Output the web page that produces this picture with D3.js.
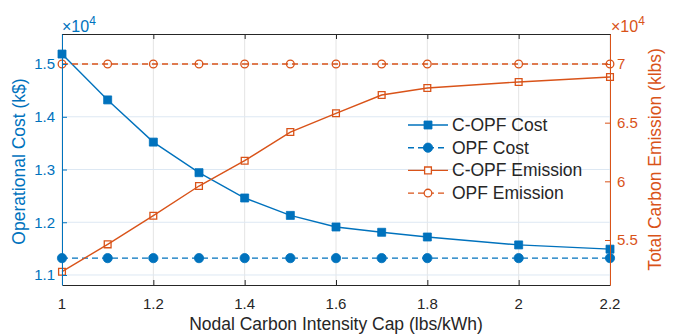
<!DOCTYPE html>
<html>
<head>
<meta charset="utf-8">
<script src="https://cdn.jsdelivr.net/npm/d3@7"></script>
<style>
  body { margin: 0; background: #fff; }
  svg { font-family: 'Liberation Sans', Arial, Helvetica, sans-serif; }
</style>
</head>
<body>
<svg width="674" height="335"></svg>
<script>
const svg = d3.select('svg');
const width = +svg.attr('width');
const height = +svg.attr('height');

// data (cost in $, emission in lbs)
const capValues = [1, 1.1, 1.2, 1.3, 1.4, 1.5, 1.6, 1.7, 1.8, 2.0, 2.2];
const copfCost = [15190, 14320, 13520, 12940, 12460, 12130, 11910, 11810, 11720, 11570, 11490];
const opfCost = [11320, 11320, 11320, 11320, 11320, 11320, 11320, 11320, 11320, 11320, 11320];
const copfEmission = [52300, 54630, 57070, 59600, 61760, 64200, 65800, 67360, 67950, 68470, 68890];
const opfEmission = [70000, 70000, 70000, 70000, 70000, 70000, 70000, 70000, 70000, 70000, 70000];

const xTicks = [1, 1.2, 1.4, 1.6, 1.8, 2, 2.2];
const costTicks = [11000, 12000, 13000, 14000, 15000];
const emissionTicks = [55000, 60000, 65000, 70000];

const seriesNames = ['C-OPF Cost', 'OPF Cost', 'C-OPF Emission', 'OPF Emission'];

const blue = '#0072BD';
const orange = '#D95319';
const dark = '#262626';

const margin = { top: 34, right: 64, bottom: 50, left: 62 };
const innerWidth = width - margin.left - margin.right;
const innerHeight = height - margin.top - margin.bottom;

const plotLeft = margin.left, plotRight = margin.left + innerWidth;
const plotTop = margin.top, plotBottom = margin.top + innerHeight;

// scales in page coordinates
const x = d3.scaleLinear()
    .domain([1, 2.2])
    .range([plotLeft, plotRight]);

const yCost = d3.scaleLinear()
    .domain([10810, 15570])
    .range([plotBottom, plotTop]);

const yEm = d3.scaleLinear()
    .domain([51165, 72557])
    .range([plotBottom, plotTop]);

// grid
svg.append('g').selectAll('line').data(xTicks).enter()
    .append('line')
    .attr('x1', d => x(d)).attr('x2', d => x(d))
    .attr('y1', plotTop).attr('y2', plotBottom)
    .attr('stroke', '#e4e4e4');

svg.append('g').selectAll('line').data(costTicks).enter()
    .append('line')
    .attr('x1', plotLeft).attr('x2', plotRight)
    .attr('y1', d => yCost(d)).attr('y2', d => yCost(d))
    .attr('stroke', '#dde8f3');

// series
const series = [
    { name: seriesNames[0], values: copfCost, y: yCost, color: blue, dash: null, shape: d3.symbolSquare, size: 64, filled: true },
    { name: seriesNames[1], values: opfCost, y: yCost, color: blue, dash: '6,4', shape: d3.symbolCircle, size: 68, filled: true },
    { name: seriesNames[2], values: copfEmission, y: yEm, color: orange, dash: null, shape: d3.symbolSquare, size: 46, filled: false },
    { name: seriesNames[3], values: opfEmission, y: yEm, color: orange, dash: '6,4', shape: d3.symbolCircle, size: 46, filled: false }
];

series.forEach(s => {
    const line = d3.line()
        .x((d, i) => x(capValues[i]))
        .y(d => s.y(d));

    svg.append('path')
        .datum(s.values)
        .attr('d', line)
        .attr('fill', 'none')
        .attr('stroke', s.color)
        .attr('stroke-width', 1.4)
        .attr('stroke-dasharray', s.dash);

    svg.append('g').selectAll('path').data(s.values).enter()
        .append('path')
        .attr('d', d3.symbol().type(s.shape).size(s.size))
        .attr('transform', (d, i) => `translate(${x(capValues[i])},${s.y(d)})`)
        .attr('fill', s.filled ? s.color : 'none')
        .attr('stroke', s.color)
        .attr('stroke-width', s.filled ? 0.8 : 1.3);
});

// axes (lines + inward ticks), labels drawn separately below
const axisLines = (axis, color, tx, ty) => {
    const a = svg.append('g')
        .attr('transform', `translate(${tx},${ty})`)
        .call(axis.tickSizeInner(-5).tickSizeOuter(0));
    a.selectAll('.tick text').remove();
    a.select('.domain').attr('stroke', color);
    a.selectAll('.tick line').attr('stroke', color);
};
axisLines(d3.axisBottom(x).tickValues(xTicks), dark, 0, plotBottom);
axisLines(d3.axisTop(x).tickValues(xTicks), dark, 0, plotTop);
axisLines(d3.axisLeft(yCost).tickValues(costTicks), blue, plotLeft, 0);
axisLines(d3.axisRight(yEm).tickValues(emissionTicks), orange, plotRight, 0);

const fmt = d => d3.format('~g')(d / 10000);

svg.append('g').selectAll('text').data(xTicks).enter()
    .append('text')
    .attr('x', d => x(d))
    .attr('y', plotBottom + 24)
    .attr('text-anchor', 'middle')
    .attr('font-size', 15)
    .attr('fill', dark)
    .text(d3.format('~g'));

svg.append('g').selectAll('text').data(costTicks).enter()
    .append('text')
    .attr('x', plotLeft - 7)
    .attr('y', d => yCost(d))
    .attr('dy', '0.35em')
    .attr('text-anchor', 'end')
    .attr('font-size', 15)
    .attr('fill', blue)
    .text(fmt);

svg.append('g').selectAll('text').data(emissionTicks).enter()
    .append('text')
    .attr('x', plotRight + 7)
    .attr('y', d => yEm(d))
    .attr('dy', '0.35em')
    .attr('font-size', 15)
    .attr('fill', orange)
    .text(fmt);

// axis titles
svg.append('text')
    .attr('x', plotLeft + innerWidth / 2)
    .attr('y', 330)
    .attr('text-anchor', 'middle')
    .attr('font-size', 17.5)
    .attr('fill', dark)
    .text('Nodal Carbon Intensity Cap (lbs/kWh)');

const yTitle = (xPos, yPos, color, text) => {
    svg.append('text')
        .attr('x', xPos)
        .attr('y', yPos)
        .attr('transform', `rotate(-90, ${xPos}, ${yPos})`)
        .attr('text-anchor', 'middle')
        .attr('font-size', 17.5)
        .attr('fill', color)
        .text(text);
};
yTitle(25, plotTop + innerHeight / 2 + 2, blue, 'Operational Cost (k$)');
yTitle(661, plotTop + innerHeight / 2, orange, 'Total Carbon Emission (klbs)');

// exponent labels
const expLabel = (xPos, color) => {
    const t = svg.append('text')
        .attr('x', xPos)
        .attr('y', 32)
        .attr('font-size', 16)
        .attr('fill', color);
    t.append('tspan').text('\u00d710');
    t.append('tspan').attr('dy', -7).attr('font-size', 12).text('4');
};
expLabel(plotLeft, blue);
expLabel(plotRight + 1, orange);

// legend
const legendX = 408, legendY = 125, rowGap = 22.7;

const legendRow = svg.append('g').selectAll('g').data(series).enter()
    .append('g');

legendRow.append('line')
    .attr('x1', legendX).attr('x2', legendX + 40)
    .attr('y1', (d, i) => legendY + i * rowGap)
    .attr('y2', (d, i) => legendY + i * rowGap)
    .attr('stroke', d => d.color)
    .attr('stroke-width', 1.4)
    .attr('stroke-dasharray', d => d.dash);

legendRow.append('path')
    .attr('d', d => d3.symbol().type(d.shape).size(d.size)())
    .attr('transform', (d, i) => `translate(${legendX + 20},${legendY + i * rowGap})`)
    .attr('fill', d => d.filled ? d.color : '#fff')
    .attr('stroke', d => d.color)
    .attr('stroke-width', d => d.filled ? 0.8 : 1.3);

legendRow.append('text')
    .attr('x', legendX + 44)
    .attr('y', (d, i) => legendY + i * rowGap + 6)
    .attr('font-size', 17.5)
    .attr('fill', dark)
    .text(d => d.name);
</script>
</body>
</html>
